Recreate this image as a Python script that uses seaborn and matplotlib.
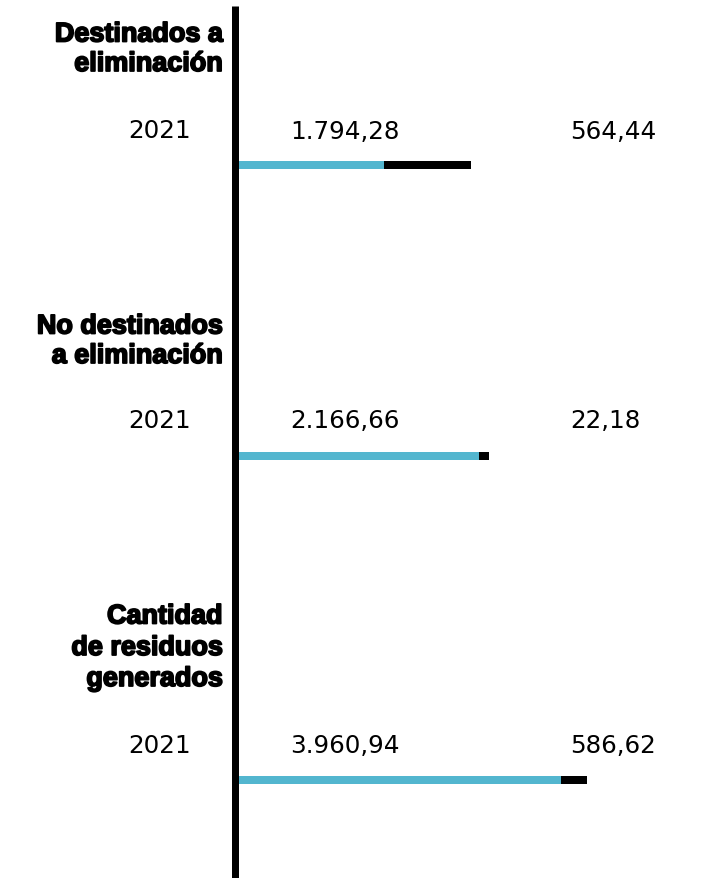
import matplotlib
matplotlib.use("Agg")
import matplotlib.pyplot as plt
from matplotlib.lines import Line2D
import matplotlib.patheffects as pe
import seaborn as sns
import pandas as pd

# ---------------- data ----------------
categories = [
    ["Destinados a", "eliminación"],
    ["No destinados", "a eliminación"],
    ["Cantidad", "de residuos", "generados"],
]
years = ["2021", "2021", "2021"]
primary_labels = ["1.794,28", "2.166,66", "3.960,94"]
secondary_labels = ["564,44", "22,18", "586,62"]
# bar lengths as drawn in the reference (same scale for all bars)
primary_bar = [1787, 2955, 3961]
secondary_bar = [1067, 123, 315]

# ---------------- layout ----------------
W, H = 712, 879
CYAN = "#53b6cf"
UNITS_PER_PX = 3960.94 / 323.0
AXIS_X = 238  # px, where bars start

label_baselines = [[42.5, 72], [334.5, 364], [624.5, 656, 687]]
year_baselines = [138.5, 428.5, 753.5]
bar_centers = [166, 457, 781]
BAR_H = 8

sns.set_theme(style="white")
plt.rcParams["font.family"] = ["DejaVu Sans"]

fig = plt.figure(figsize=(W / 100, H / 100), dpi=100)
fig.patch.set_facecolor("white")


def fx(x):
    return x / W


def fy(y):
    return 1 - y / H


px2pt = 72 / 100
heavy = [pe.withStroke(linewidth=1.3, foreground="black")]

for i, lines in enumerate(categories):
    # bold category label, right aligned
    for line, yb in zip(lines, label_baselines[i]):
        fig.text(fx(222.5), fy(yb), line, ha="right", va="baseline",
                 fontsize=27 * px2pt, fontweight="bold",
                 family=["Liberation Sans", "DejaVu Sans"], color="black",
                 path_effects=heavy)
    # year and values
    fs = 24.6 * px2pt
    fig.text(fx(159.5), fy(year_baselines[i]), years[i], ha="center", va="baseline",
             fontsize=fs, color="black")
    fig.text(fx(290), fy(year_baselines[i]), primary_labels[i], ha="left", va="baseline",
             fontsize=fs, color="black")
    fig.text(fx(570), fy(year_baselines[i]), secondary_labels[i], ha="left", va="baseline",
             fontsize=fs, color="black")

    # stacked horizontal bar
    yc = bar_centers[i]
    ax = fig.add_axes([fx(AXIS_X), fy(yc + BAR_H / 2), (W - AXIS_X) / W, BAR_H / H])
    df = pd.DataFrame({
        "cat": [lines[0]],
        "total": [primary_bar[i] + secondary_bar[i]],
        "primary": [primary_bar[i]],
    })
    sns.barplot(data=df, x="total", y="cat", orient="h", color="black",
                saturation=1, width=1, linewidth=0, ax=ax)
    sns.barplot(data=df, x="primary", y="cat", orient="h", color=CYAN,
                saturation=1, width=1, linewidth=0, ax=ax)
    ax.set_xlim(0, (W - AXIS_X) * UNITS_PER_PX)
    ax.set_ylim(0.5, -0.5)
    ax.axis("off")
    ax.patch.set_alpha(0)

# vertical axis line
fig.add_artist(Line2D([fx(234.7), fx(234.7)], [fy(7), fy(H + 5)], color="black",
                      lw=7 * px2pt, solid_capstyle="butt", zorder=10))

fig.savefig("out.png", dpi=100, facecolor="white")
